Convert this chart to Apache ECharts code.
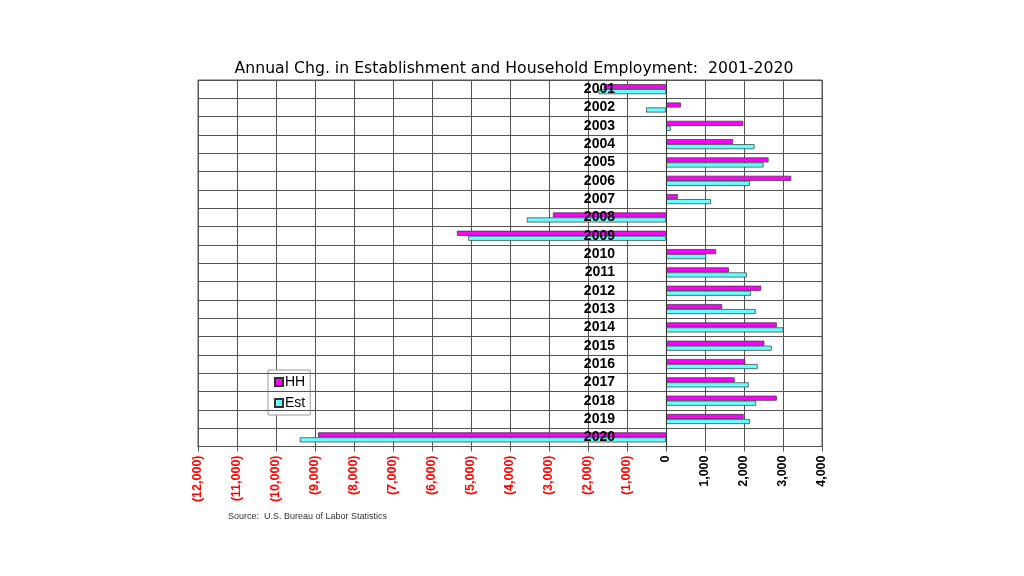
<!DOCTYPE html>
<html>
<head>
<meta charset="utf-8">
<script src="https://cdn.jsdelivr.net/npm/echarts@6/dist/echarts.min.js"></script>
<style>
html,body{margin:0;padding:0;background:#fff;}
#chart{width:1024px;height:576px;}
</style>
</head>
<body>
<div id="chart"></div>
<script>
var years = ['2001','2002','2003','2004','2005','2006','2007','2008','2009','2010',
             '2011','2012','2013','2014','2015','2016','2017','2018','2019','2020'];
var hhValues  = [-1600, 380, 1980, 1720, 2630, 3210, 300, -2900, -5360, 1280,
                 1610, 2440, 1440, 2840, 2520, 2030, 1760, 2840, 1990, -8920];
var estValues = [-1730, -510, 120, 2270, 2500, 2150, 1150, -3570, -5070, 1030,
                 2070, 2180, 2300, 3010, 2710, 2350, 2120, 2310, 2150, -9390];
var xMin = -12000, xMax = 4000, xStep = 1000;
var titleText = 'Annual Chg. in Establishment and Household Employment:  2001-2020';
var sourceText = 'Source:  U.S. Bureau of Labor Statistics';

function fmt(v){
  var s = String(Math.abs(v)).replace(/\B(?=(\d{3})+(?!\d))/g, ',');
  return v < 0 ? '(' + s + ')' : s;
}

var gridLeft = 198, gridRight = 202;
var plotW = 1024 - gridLeft - gridRight;
var zeroOffset = -plotW * (0 - xMin) / (xMax - xMin);

var chart = echarts.init(document.getElementById('chart'));
chart.setOption({
  animation: false,
  backgroundColor: '#ffffff',
  title: {
    text: titleText,
    left: 509, top: 56, textAlign: 'center',
    textStyle: {fontFamily: 'DejaVu Sans', fontSize: 15.7, fontWeight: 'normal', color: '#000'}
  },
  graphic: [{
    type: 'text', left: 228, top: 512,
    style: {text: sourceText, font: '9px "Liberation Sans"', fill: '#333'}
  }],
  legend: {
    orient: 'vertical', left: 268, top: 370,
    backgroundColor: '#fff', borderColor: '#999', borderWidth: 1,
    padding: [5, 5, 5, 6], itemGap: 7, itemWidth: 8, itemHeight: 8,
    icon: 'rect',
    textStyle: {fontFamily: 'Liberation Sans', fontSize: 14, color: '#000', padding: [0,0,0,-3]},
    data: ['HH', 'Est']
  },
  grid: {
    left: gridLeft, right: gridRight, top: 80, bottom: 129.5,
    show: true, borderColor: '#555', borderWidth: 1, containLabel: false
  },
  xAxis: {
    type: 'value', min: xMin, max: xMax, interval: xStep,
    axisLine: {show: true, lineStyle: {color: '#555'}},
    axisTick: {show: true, length: 5, inside: false, lineStyle: {color: '#555'}},
    splitLine: {show: true, lineStyle: {color: '#555', width: 1}},
    axisLabel: {
      rotate: 90, margin: 9,
      fontFamily: 'Liberation Sans', fontSize: 12.5, fontWeight: 'bold',
      color: function(v){ return Number(v) < 0 ? '#ff0000' : '#000000'; },
      formatter: function(v){ return fmt(v); }
    }
  },
  yAxis: {
    type: 'category', data: years, inverse: true, z: 10,
    offset: zeroOffset,
    axisLine: {show: true, onZero: false, lineStyle: {color: '#333'}},
    axisTick: {show: false},
    splitLine: {show: true, interval: 0, lineStyle: {color: '#555', width: 1}},
    axisLabel: {
      margin: 51, interval: 0,
      fontFamily: 'Liberation Sans', fontSize: 14, fontWeight: 'bold', color: '#000'
    }
  },
  series: [{
    name: 'HH', type: 'bar', data: hhValues,
    barWidth: 5, barGap: '0%',
    itemStyle: {color: '#ff00ff', borderColor: '#333', borderWidth: 0.7}
  }, {
    name: 'Est', type: 'bar', data: estValues,
    barWidth: 5, barGap: '0%',
    itemStyle: {color: '#66ffff', borderColor: '#333', borderWidth: 0.7}
  }]
});
</script>
</body>
</html>
